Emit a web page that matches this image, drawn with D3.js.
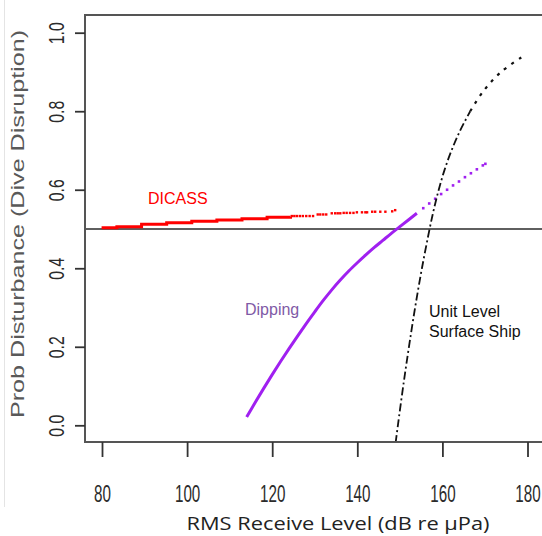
<!DOCTYPE html>
<html><head><meta charset="utf-8">
<script src="https://d3js.org/d3.v7.min.js"></script>
<style>html,body{margin:0;padding:0;background:#fff;} svg{display:block}</style>
</head><body>
<svg id="c" width="542" height="536"></svg>
<script>
// ---- data ----
const xTicks = [80, 100, 120, 140, 160, 180];
const yTicks = [0, 0.2, 0.4, 0.6, 0.8, 1.0];
const refLine = 0.5;

const dicassStepX = [79.9, 83.5, 89.3, 95.2, 101.1, 107.0, 112.9, 118.8, 124.3];
const dicassStepY = [0.503, 0.506, 0.512, 0.516, 0.520, 0.523, 0.526, 0.530, 0.531];
const dicassDotX = [124.6, 125.2, 125.8, 126.5, 127.2, 128.0, 128.8, 129.6,
  130.7, 131.3, 132.0, 132.7, 134.0, 134.8, 135.4, 136.0, 136.8, 137.5, 138.3, 139.1,
  139.9, 141.1, 141.9, 142.3, 143.5, 144.2, 145.4, 146.6, 148.2, 148.9];
const dicassDotY = [0.533, 0.533, 0.533, 0.533, 0.533, 0.533, 0.533, 0.533,
  0.537, 0.537, 0.537, 0.537, 0.540, 0.540, 0.540, 0.540, 0.541, 0.541, 0.541, 0.541,
  0.5425, 0.5425, 0.5425, 0.5425, 0.544, 0.544, 0.544, 0.544, 0.545, 0.548];

const dippingX = [114, 116, 118, 120, 122, 124, 126, 128, 130, 132, 134, 136, 138, 140,
  142, 144, 146, 148, 150, 152, 154];
const dippingY = [0.021, 0.058, 0.094, 0.129, 0.163, 0.196, 0.228, 0.259, 0.289, 0.318,
  0.345, 0.370, 0.393, 0.414, 0.434, 0.453, 0.471, 0.489, 0.506, 0.523, 0.540];
const dippingDotX = [155.5, 156.9, 158.3, 159.7, 161.1, 162.5, 163.9, 165.3, 166.7, 168.1, 169.5, 170.1];
const dippingDotY = [0.553, 0.565, 0.577, 0.589, 0.600, 0.611, 0.621, 0.632, 0.642, 0.652, 0.662, 0.666];

const shipX = [149.0, 149.54, 150.79, 152.14, 153.59, 155.19, 156.99, 157.99, 159.14, 160.49,
  162.14, 164.14, 166.54, 169.54, 173.79, 179.12];
const shipY = [-0.045, 0.0, 0.1, 0.2, 0.3, 0.4, 0.5, 0.55, 0.6, 0.65,
  0.7, 0.75, 0.8, 0.85, 0.9, 0.941];

const xTitle = "RMS Receive Level (dB re \u00B5Pa)";
const yTitle = "Prob Disturbance (Dive Disruption)";

// ---- layout ----
const svg = d3.select("#c");
const box = {left: 85, top: 15, right: 544, bottom: 442};
const x = d3.scaleLinear().domain([80, 180]).range([102, 527.5]);
const y = d3.scaleLinear().domain([0, 1]).range([425.3, 32.7]);

function squeeze(sel, factor) {
  sel.each(function() {
    const n = this.getComputedTextLength();
    d3.select(this).attr("textLength", n * factor).attr("lengthAdjust", "spacingAndGlyphs");
  });
}

// faint border at far left
svg.append("line").attr("x1", 4.5).attr("x2", 4.5).attr("y1", 0).attr("y2", 507)
  .attr("stroke", "#e4e4e4").attr("stroke-width", 1);

// clip
svg.append("clipPath").attr("id", "clip").append("rect")
  .attr("x", box.left).attr("y", box.top).attr("width", box.right - box.left).attr("height", box.bottom - box.top);
const g = svg.append("g").attr("clip-path", "url(#clip)");

// reference line
g.append("line").attr("x1", box.left).attr("x2", box.right)
  .attr("y1", y(refLine)).attr("y2", y(refLine))
  .attr("stroke", "#2a2a2a").attr("stroke-width", 1.6);

// DICASS
const dicass = dicassStepX.map((d, i) => [d, dicassStepY[i]]);
g.append("path").datum(dicass)
  .attr("d", d3.line().x(d => x(d[0])).y(d => y(d[1])).curve(d3.curveStepAfter))
  .attr("fill", "none").attr("stroke", "#ff0000").attr("stroke-width", 3);
g.selectAll(".dd").data(dicassDotX.map((d, i) => [d, dicassDotY[i]])).join("rect")
  .attr("x", d => x(d[0]) - 1.2).attr("y", d => y(d[1]) - 1.2)
  .attr("width", 2.4).attr("height", 2.4).attr("fill", "#ff0000");

// Dipping
const dip = dippingX.map((d, i) => [d, dippingY[i]]);
g.append("path").datum(dip)
  .attr("d", d3.line().x(d => x(d[0])).y(d => y(d[1])).curve(d3.curveCatmullRom))
  .attr("fill", "none").attr("stroke", "#a020f0").attr("stroke-width", 3);
g.selectAll(".pd").data(dippingDotX.map((d, i) => [d, dippingDotY[i]])).join("rect")
  .attr("x", d => x(d[0]) - 1.3).attr("y", d => y(d[1]) - 1.3)
  .attr("width", 2.6).attr("height", 2.6).attr("fill", "#a020f0");

// Unit level surface ship
const ship = shipX.map((d, i) => [d, shipY[i]]);
const shipLine = d3.line().x(d => x(d[0])).y(d => y(d[1])).curve(d3.curveCatmullRom);
g.append("path").datum(ship.filter(d => d[0] <= 166.6))
  .attr("d", shipLine).attr("fill", "none").attr("stroke", "#111")
  .attr("stroke-width", 1.8).attr("stroke-dasharray", "8,3,2,3");
g.append("path").datum(ship.filter(d => d[0] >= 166.5))
  .attr("d", shipLine).attr("fill", "none").attr("stroke", "#111")
  .attr("stroke-width", 2.2).attr("stroke-dasharray", "3,6");

// box
svg.append("path")
  .attr("d", `M${box.right},${box.top}H${box.left}V${box.bottom}H${box.right}`)
  .attr("fill", "none").attr("stroke", "#555").attr("stroke-width", 2);

// axes
const yAxis = svg.append("g").attr("transform", `translate(${box.left},0)`)
  .call(d3.axisLeft(y).tickValues(yTicks).tickSize(10).tickFormat(d3.format(".1f")));
yAxis.select(".domain").remove();
yAxis.selectAll("line").attr("stroke", "#333").attr("stroke-width", 1.8);
yAxis.selectAll("text")
  .attr("transform", "rotate(-90)").attr("x", 0).attr("y", -21).attr("dy", 0)
  .attr("text-anchor", "middle")
  .attr("font-family", "Liberation Sans, Arial, sans-serif").attr("font-size", 22).attr("fill", "#2b2b2b");
squeeze(yAxis.selectAll("text"), 0.72);

const xAxis = svg.append("g").attr("transform", `translate(0,${box.bottom})`)
  .call(d3.axisBottom(x).tickValues(xTicks).tickSize(15).tickFormat(d3.format("d")));
xAxis.select(".domain").remove();
xAxis.selectAll("line").attr("stroke", "#333").attr("stroke-width", 1.8);
xAxis.selectAll("text").attr("y", 60).attr("dy", 0)
  .attr("font-family", "Liberation Sans, Arial, sans-serif").attr("font-size", 23).attr("fill", "#2b2b2b");
squeeze(xAxis.selectAll("text"), 0.66);

// titles
svg.append("text").attr("x", 338).attr("y", 530).attr("text-anchor", "middle")
  .attr("font-family", "Open Sans, sans-serif").attr("font-size", 18).attr("fill", "#222")
  .attr("textLength", 303).attr("lengthAdjust", "spacingAndGlyphs").text(xTitle);
svg.append("text").attr("transform", "translate(24,224) rotate(-90)").attr("text-anchor", "middle")
  .attr("font-family", "Liberation Sans, Arial, sans-serif").attr("font-size", 18).attr("fill", "#595959")
  .attr("textLength", 388).attr("lengthAdjust", "spacingAndGlyphs").text(yTitle);

// series labels
const lab = (t, px, py, col) => svg.append("text").attr("x", px).attr("y", py)
  .attr("font-family", "Liberation Sans, Arial, sans-serif").attr("font-size", 16).attr("fill", col).text(t);
lab("DICASS", 148, 204, "#ff0000");
lab("Dipping", 245, 315, "#7f5aa6");
lab("Unit Level", 429, 317, "#111");
lab("Surface Ship", 429, 337, "#111");
</script>
</body></html>
